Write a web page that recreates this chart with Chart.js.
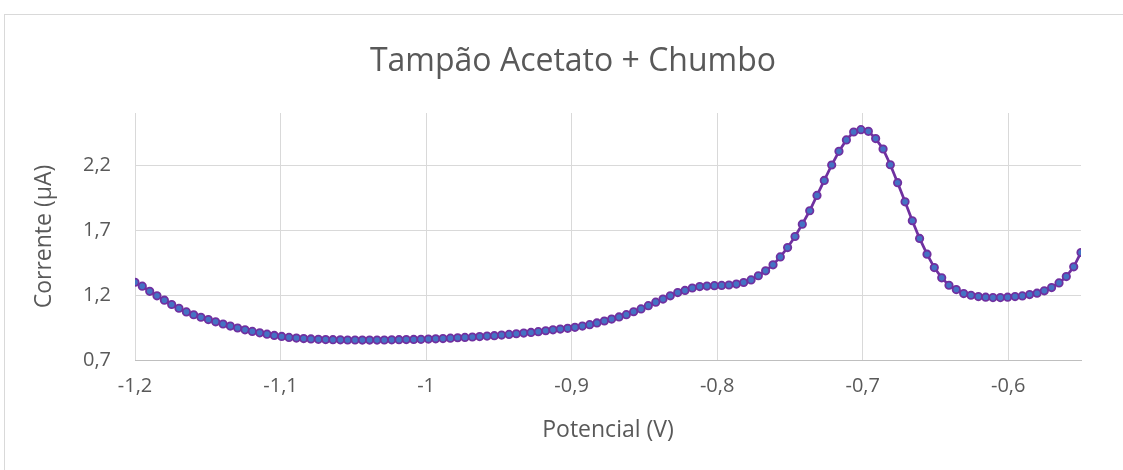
<!DOCTYPE html>
<html lang="pt">
<head>
<meta charset="utf-8">
<title>Tampão Acetato + Chumbo</title>
<script src="https://cdn.jsdelivr.net/npm/chart.js@4.4.1/dist/chart.umd.min.js"></script>
<style>
  html, body { margin: 0; padding: 0; background: #ffffff; overflow: hidden; width: 1123px; height: 470px; }
  #wrap { position: absolute; left: 4px; top: 14px; width: 1136px; height: 455px; border: 1px solid #d9d9d9; background: #ffffff; }
  canvas { display: block; }
</style>
</head>
<body>
<div id="wrap"><canvas id="chart" width="1136" height="455"></canvas></div>
<script>
// Potencial (V) de cada leitura da varredura
const potencial = [
  -1.2000, -1.1950, -1.1899, -1.1849, -1.1798, -1.1748, -1.1698, -1.1647, -1.1597, -1.1547,
  -1.1496, -1.1446, -1.1395, -1.1345, -1.1295, -1.1244, -1.1194, -1.1143, -1.1093, -1.1043,
  -1.0992, -1.0942, -1.0891, -1.0841, -1.0791, -1.0740, -1.0690, -1.0640, -1.0589, -1.0539,
  -1.0488, -1.0438, -1.0388, -1.0337, -1.0287, -1.0236, -1.0186, -1.0136, -1.0085, -1.0035,
  -0.9984, -0.9934, -0.9884, -0.9833, -0.9783, -0.9733, -0.9682, -0.9632, -0.9581, -0.9531,
  -0.9481, -0.9430, -0.9380, -0.9329, -0.9279, -0.9229, -0.9178, -0.9128, -0.9078, -0.9027,
  -0.8977, -0.8926, -0.8876, -0.8826, -0.8775, -0.8725, -0.8674, -0.8624, -0.8574, -0.8523,
  -0.8473, -0.8422, -0.8372, -0.8322, -0.8271, -0.8221, -0.8171, -0.8120, -0.8070, -0.8019,
  -0.7969, -0.7919, -0.7868, -0.7818, -0.7767, -0.7717, -0.7667, -0.7616, -0.7566, -0.7516,
  -0.7465, -0.7415, -0.7364, -0.7314, -0.7264, -0.7213, -0.7163, -0.7112, -0.7062, -0.7012,
  -0.6961, -0.6911, -0.6860, -0.6810, -0.6760, -0.6709, -0.6659, -0.6609, -0.6558, -0.6508,
  -0.6457, -0.6407, -0.6357, -0.6306, -0.6256, -0.6205, -0.6155, -0.6105, -0.6054, -0.6004,
  -0.5953, -0.5903, -0.5853, -0.5802, -0.5752, -0.5702, -0.5651, -0.5601, -0.5550, -0.5500
];

// Corrente (µA) medida em cada potencial
const corrente = [
  1.298, 1.268, 1.228, 1.194, 1.160, 1.127, 1.098, 1.070, 1.048, 1.029,
  1.011, 0.994, 0.977, 0.961, 0.946, 0.932, 0.920, 0.909, 0.899, 0.889,
  0.881, 0.874, 0.869, 0.865, 0.862, 0.859, 0.857, 0.856, 0.855, 0.854,
  0.854, 0.853, 0.853, 0.853, 0.854, 0.855, 0.856, 0.857, 0.858, 0.859,
  0.861, 0.863, 0.865, 0.868, 0.871, 0.874, 0.877, 0.880, 0.884, 0.887,
  0.892, 0.897, 0.902, 0.907, 0.912, 0.918, 0.925, 0.932, 0.938, 0.944,
  0.951, 0.961, 0.972, 0.985, 1.000, 1.015, 1.031, 1.049, 1.071, 1.093,
  1.118, 1.145, 1.169, 1.194, 1.219, 1.235, 1.254, 1.265, 1.269, 1.272,
  1.274, 1.277, 1.284, 1.296, 1.316, 1.348, 1.386, 1.432, 1.493, 1.565,
  1.650, 1.745, 1.848, 1.966, 2.081, 2.200, 2.305, 2.393, 2.454, 2.472,
  2.459, 2.403, 2.323, 2.202, 2.064, 1.917, 1.771, 1.635, 1.514, 1.411,
  1.332, 1.275, 1.242, 1.211, 1.198, 1.188, 1.183, 1.180, 1.180, 1.183,
  1.188, 1.193, 1.203, 1.214, 1.232, 1.257, 1.293, 1.342, 1.417, 1.527
];

// Marcas dos eixos
const xTicks = [-1.2, -1.1, -1.0, -0.9, -0.8, -0.7, -0.6];
const yTicks = [0.7, 1.2, 1.7, 2.2];
const xRange = [-1.2, -0.55];
const yRange = [0.7, 2.6];

const tituloGrafico = 'Tampão Acetato + Chumbo';
const tituloX = 'Potencial (V)';
const tituloY = 'Corrente (µA)';

const FONT = '"Open Sans", "Noto Sans", sans-serif';
const TEXT = '#595959';
const GRID = '#d9d9d9';

// vírgula decimal, sem zeros à direita
const fmt = v => String(Number(v.toFixed(2))).replace('.', ',');

const points = potencial.map((x, i) => ({ x, y: corrente[i] }));

new Chart(document.getElementById('chart'), {
  type: 'line',
  data: {
    datasets: [{
      data: points,
      borderColor: '#7030a0',
      borderWidth: 2.75,
      backgroundColor: '#4472c4',
      pointBackgroundColor: '#4472c4',
      pointBorderColor: '#7030a0',
      pointBorderWidth: 1.8,
      pointRadius: 3.7,
      pointHoverRadius: 3.7,
      tension: 0,
      fill: false
    }]
  },
  options: {
    responsive: false,
    animation: false,
    events: [],
    layout: { padding: 0 },
    plugins: {
      legend: { display: false },
      tooltip: { enabled: false },
      title: {
        display: true,
        text: tituloGrafico,
        color: TEXT,
        font: { family: FONT, size: 32, weight: 'normal' },
        padding: { top: 28, bottom: 31.6 }
      }
    },
    scales: {
      x: {
        type: 'linear',
        position: 'bottom',
        min: xRange[0],
        max: xRange[1],
        afterBuildTicks: s => { s.ticks = xTicks.map(v => ({ value: v })); },
        afterFit: s => { s.height = 110; },
        grid: { color: GRID, lineWidth: 1, drawTicks: false },
        border: { display: true, color: '#bfbfbf', width: 1 },
        ticks: {
          color: TEXT,
          font: { family: FONT, size: 20 },
          padding: 14,
          maxRotation: 0,
          callback: v => fmt(v)
        },
        title: {
          display: true,
          text: tituloX,
          color: TEXT,
          font: { family: FONT, size: 23 },
          padding: { top: 0, bottom: 26 }
        }
      },
      y: {
        type: 'linear',
        position: 'left',
        min: yRange[0],
        max: yRange[1],
        afterBuildTicks: s => { s.ticks = yTicks.map(v => ({ value: v })); },
        afterFit: s => { s.width = 130; },
        grid: { color: GRID, lineWidth: 1, drawTicks: false },
        border: { display: false },
        ticks: {
          color: TEXT,
          font: { family: FONT, size: 20 },
          padding: 24,
          callback: v => fmt(v)
        },
        title: {
          display: true,
          text: tituloY,
          color: TEXT,
          font: { family: FONT, size: 23 },
          padding: { top: 26, bottom: 0 }
        }
      },
      margem: {
        type: 'linear',
        position: 'right',
        display: true,
        grid: { display: false },
        border: { display: false },
        ticks: { display: false },
        afterFit: s => { s.width = 60; }
      }
    }
  }
});
</script>
</body>
</html>
